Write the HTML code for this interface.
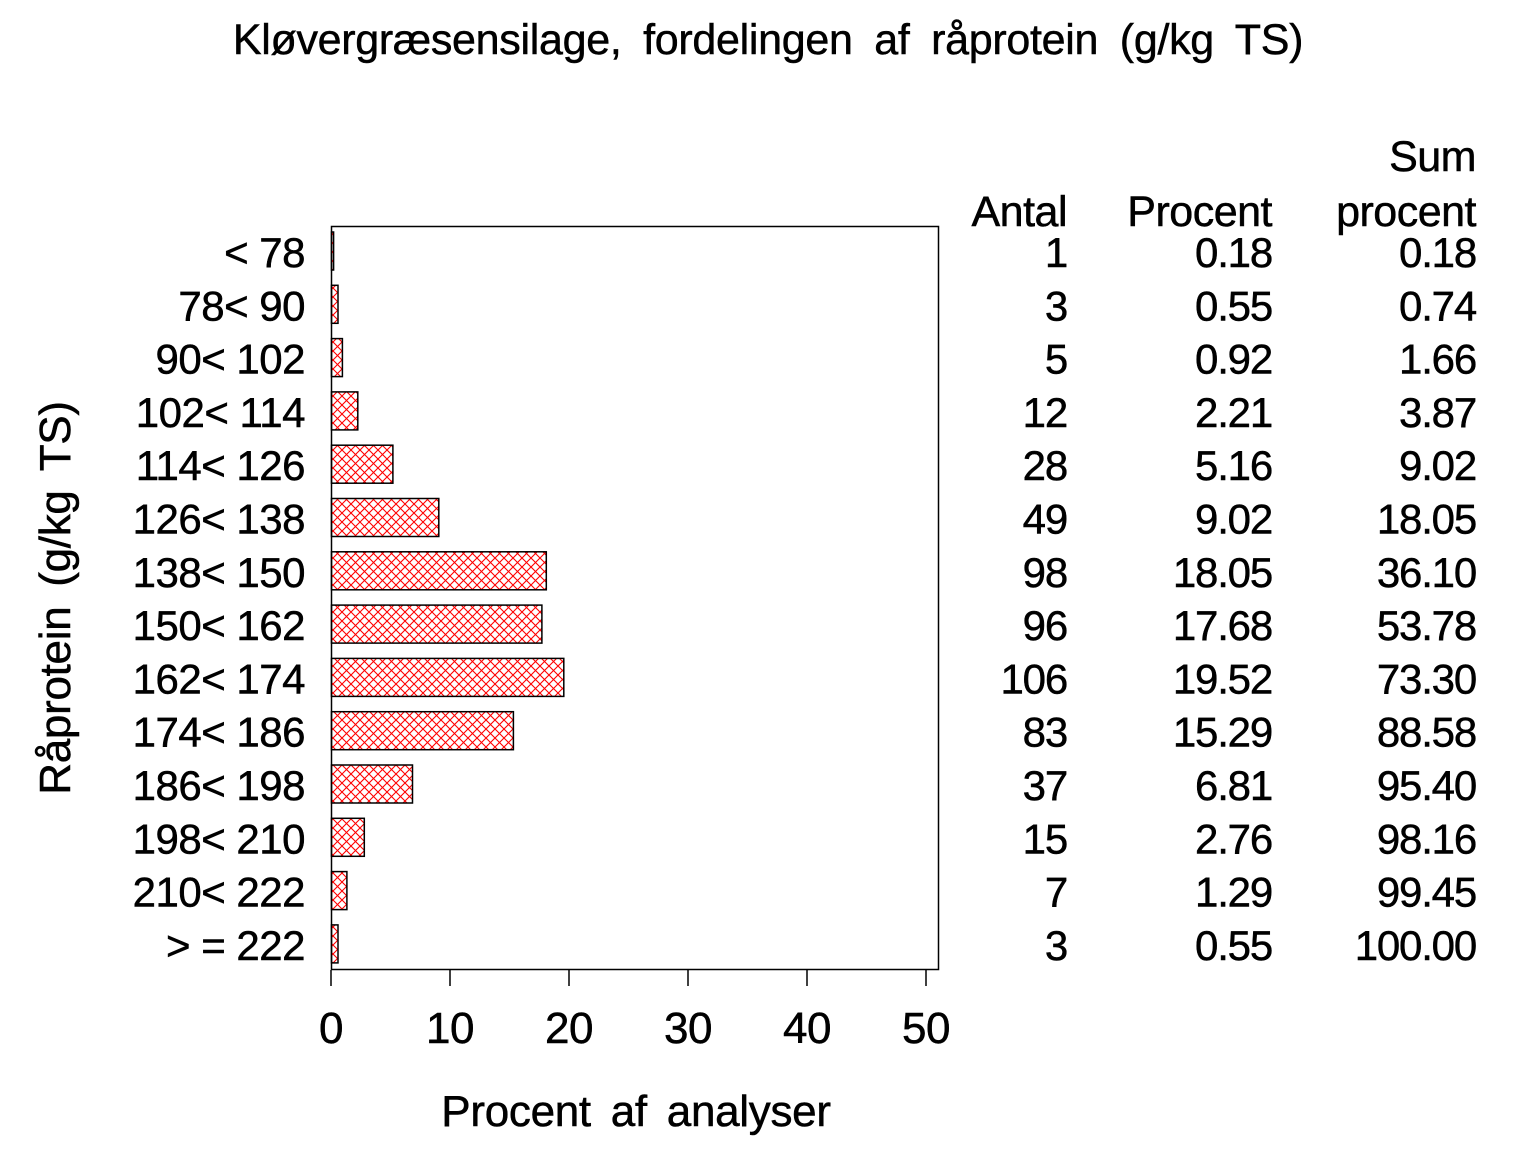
<!DOCTYPE html>
<html><head><meta charset="utf-8"><style>
html,body{margin:0;padding:0;background:#fff;}
svg text{font-family:"Liberation Sans",Arial,sans-serif;fill:#000;stroke:#000;stroke-width:0.5;}
</style></head><body>
<svg width="1536" height="1152" xmlns="http://www.w3.org/2000/svg">
<defs>
<pattern id="h" width="9" height="9" patternUnits="userSpaceOnUse">
<path d="M0,0 L9,9 M9,0 L0,9" stroke="#f00" stroke-width="1.1" fill="none"/>
</pattern>
</defs>
<text x="768" y="54" font-size="43" text-anchor="middle" word-spacing="10" letter-spacing="-0.3">Kløvergræsensilage, fordelingen af råprotein (g/kg TS)</text>
<rect x="331.5" y="226.5" width="607" height="743" fill="none" stroke="#000" stroke-width="1.5"/>
<g stroke="#000" stroke-width="1.5">
<line x1="331" y1="970" x2="331" y2="986"/><line x1="450" y1="970" x2="450" y2="986"/><line x1="569" y1="970" x2="569" y2="986"/><line x1="688" y1="970" x2="688" y2="986"/><line x1="807" y1="970" x2="807" y2="986"/><line x1="926" y1="970" x2="926" y2="986"/>
</g>
<g font-size="44" text-anchor="middle" letter-spacing="-0.5">
<text x="331" y="1043">0</text><text x="450" y="1043">10</text><text x="569" y="1043">20</text><text x="688" y="1043">30</text><text x="807" y="1043">40</text><text x="926" y="1043">50</text>
</g>
<text x="636" y="1126" font-size="44" text-anchor="middle" word-spacing="8" letter-spacing="-0.3">Procent af analyser</text>
<text transform="translate(70,598) rotate(-90)" font-size="44" text-anchor="middle" word-spacing="8" letter-spacing="-0.3">Råprotein (g/kg TS)</text>
<g fill="url(#h)" stroke="#000" stroke-width="1.5">
<rect x="331.5" y="232" width="2.1" height="38"/>
<rect x="331.5" y="285.3" width="6.5" height="38"/>
<rect x="331.5" y="338.6" width="10.9" height="38"/>
<rect x="331.5" y="391.9" width="26.3" height="38"/>
<rect x="331.5" y="445.2" width="61.4" height="38"/>
<rect x="331.5" y="498.5" width="107.3" height="38"/>
<rect x="331.5" y="551.8" width="214.8" height="38"/>
<rect x="331.5" y="605.1" width="210.4" height="38"/>
<rect x="331.5" y="658.4" width="232.3" height="38"/>
<rect x="331.5" y="711.7" width="181.9" height="38"/>
<rect x="331.5" y="765" width="81" height="38"/>
<rect x="331.5" y="818.3" width="32.8" height="38"/>
<rect x="331.5" y="871.6" width="15.4" height="38"/>
<rect x="331.5" y="924.9" width="6.5" height="38"/>
</g>
<g font-size="43" text-anchor="end" letter-spacing="-0.5">
<text x="1476" y="171">Sum</text>
<text x="1067" y="226">Antal</text><text x="1272" y="226">Procent</text><text x="1476" y="226">procent</text>
</g>
<g font-size="42" text-anchor="end" letter-spacing="-0.5">
<text x="305" y="267">&lt; 78</text>
<text x="305" y="320.3">78&lt; 90</text>
<text x="305" y="373.6">90&lt; 102</text>
<text x="305" y="426.9">102&lt; 114</text>
<text x="305" y="480.2">114&lt; 126</text>
<text x="305" y="533.5">126&lt; 138</text>
<text x="305" y="586.8">138&lt; 150</text>
<text x="305" y="640.1">150&lt; 162</text>
<text x="305" y="693.4">162&lt; 174</text>
<text x="305" y="746.7">174&lt; 186</text>
<text x="305" y="800">186&lt; 198</text>
<text x="305" y="853.3">198&lt; 210</text>
<text x="305" y="906.6">210&lt; 222</text>
<text x="305" y="959.9">&gt; = 222</text>
</g>
<g font-size="42" text-anchor="end" letter-spacing="-1.2">
<text x="1067" y="267">1</text><text x="1272" y="267">0.18</text><text x="1476" y="267">0.18</text>
<text x="1067" y="320.3">3</text><text x="1272" y="320.3">0.55</text><text x="1476" y="320.3">0.74</text>
<text x="1067" y="373.6">5</text><text x="1272" y="373.6">0.92</text><text x="1476" y="373.6">1.66</text>
<text x="1067" y="426.9">12</text><text x="1272" y="426.9">2.21</text><text x="1476" y="426.9">3.87</text>
<text x="1067" y="480.2">28</text><text x="1272" y="480.2">5.16</text><text x="1476" y="480.2">9.02</text>
<text x="1067" y="533.5">49</text><text x="1272" y="533.5">9.02</text><text x="1476" y="533.5">18.05</text>
<text x="1067" y="586.8">98</text><text x="1272" y="586.8">18.05</text><text x="1476" y="586.8">36.10</text>
<text x="1067" y="640.1">96</text><text x="1272" y="640.1">17.68</text><text x="1476" y="640.1">53.78</text>
<text x="1067" y="693.4">106</text><text x="1272" y="693.4">19.52</text><text x="1476" y="693.4">73.30</text>
<text x="1067" y="746.7">83</text><text x="1272" y="746.7">15.29</text><text x="1476" y="746.7">88.58</text>
<text x="1067" y="800">37</text><text x="1272" y="800">6.81</text><text x="1476" y="800">95.40</text>
<text x="1067" y="853.3">15</text><text x="1272" y="853.3">2.76</text><text x="1476" y="853.3">98.16</text>
<text x="1067" y="906.6">7</text><text x="1272" y="906.6">1.29</text><text x="1476" y="906.6">99.45</text>
<text x="1067" y="959.9">3</text><text x="1272" y="959.9">0.55</text><text x="1476" y="959.9">100.00</text>
</g>
</svg>
</body></html>
